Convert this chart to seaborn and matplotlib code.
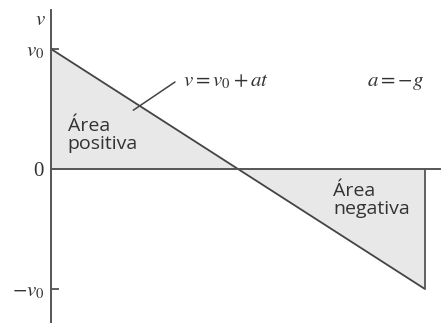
import matplotlib.pyplot as plt
import seaborn as sns
import pandas as pd

# velocity vs time for a = -g (v0 normalised to 1)
t = [0, 1, 2]
v = [1, 0, -1]
tick_vals = [1, 0, -1]
tick_labels = ['$v_0$', '0', '$-v_0$']

df = pd.DataFrame({'t': t, 'v': v})

sns.set_style('white')
plt.rcParams['mathtext.fontset'] = 'stix'
plt.rcParams['font.family'] = ['Liberation Serif', 'DejaVu Serif']

fig = plt.figure(figsize=(4.45, 3.23), dpi=100)
ax = fig.add_axes([0, 0, 1, 1])

axis_col = '#555555'
ax.fill_between(df['t'], df['v'], 0, color='#e8e8e8', lw=0)
sns.lineplot(data=df, x='t', y='v', ax=ax, color='#444444', lw=1.3)
ax.vlines(t[-1], v[-1], 0, color=axis_col, lw=1.3)

ax.set_xlim(-0.273, 2.107)
ax.set_ylim(-1.283, 1.408)

for s in ['top', 'right']:
    ax.spines[s].set_visible(False)
ax.spines['left'].set_position(('data', 0))
ax.spines['bottom'].set_position(('data', 0))
ax.spines['left'].set_bounds(-1.283, 1.325)
ax.spines['bottom'].set_bounds(0, 2.08)
for s in ['left', 'bottom']:
    ax.spines[s].set_color(axis_col)
    ax.spines[s].set_linewidth(1.4)

ax.set_xticks([])
ax.set_yticks(tick_vals)
ax.set_yticklabels(tick_labels, fontsize=15, color='#333333')
ax.tick_params(axis='y', direction='in', length=6, width=1.3, color=axis_col, pad=5, left=True)
ax.set_xlabel('')
ax.set_ylabel('')

ax.text(-0.059, 1.24, '$v$', fontsize=15, ha='center', va='center', color='#333333')
ax.text(0.706, 0.73, '$v = v_0 + at$', fontsize=15, ha='left', va='center', color='#333333')
ax.text(1.69, 0.72, '$a = -g$', fontsize=15, ha='left', va='center', color='#333333')
ax.plot([0.44, 0.663], [0.49, 0.725], color='#444444', lw=1.1)

sans = ['Open Sans', 'DejaVu Sans']
ax.text(0.09, 0.28, 'Área\npositiva', fontsize=14, family=sans, color='#333333',
        ha='left', va='center', linespacing=1.0)
ax.text(1.51, -0.26, 'Área\nnegativa', fontsize=14, family=sans, color='#333333',
        ha='left', va='center', linespacing=1.0)

fig.savefig('out.png', dpi=100)
